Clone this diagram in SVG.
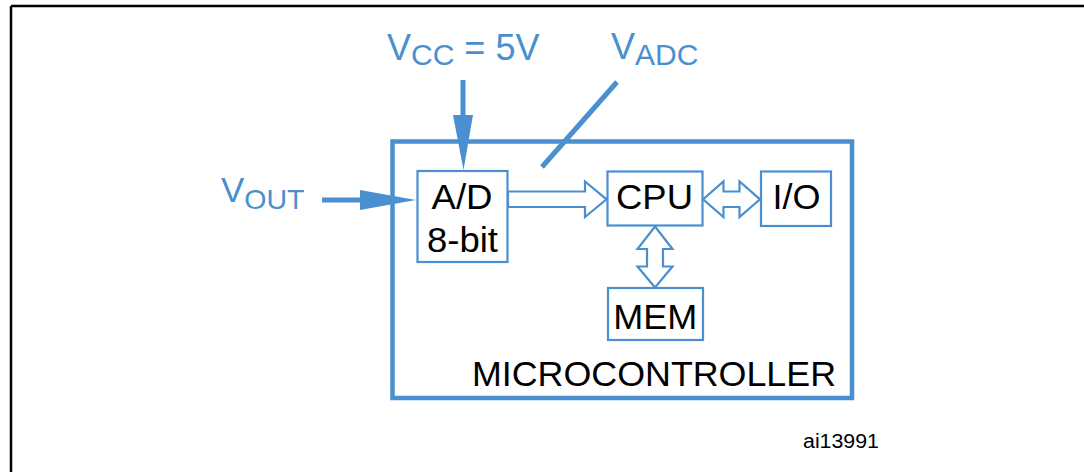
<svg xmlns="http://www.w3.org/2000/svg" width="1084" height="472" viewBox="0 0 1084 472">
<style>
.blk{font-family:"Liberation Sans",Arial,sans-serif;fill:#000;font-size:34.5px}
.blu{font-family:"Liberation Sans",Arial,sans-serif;fill:#4a8fcf}
.box{fill:#fff;stroke:#4a8fcf;stroke-width:2.2}
.hollow{fill:#fff;stroke:#4a8fcf;stroke-width:2.2;stroke-linejoin:miter}
.wire{stroke:#4a8fcf;stroke-width:5;fill:none}
.head{fill:#4a8fcf;stroke:none}
</style>
<rect x="0" y="0" width="1084" height="472" fill="#fff"/>
<path d="M11,6 H1084 M11,6 V472" stroke="#000" stroke-width="2.5" fill="none"/>

<g id="microcontroller">
<rect x="392.5" y="141.5" width="459.5" height="256.5" fill="none" stroke="#4a8fcf" stroke-width="4.5"/>
<text class="blk" x="472" y="385.5" textLength="364" lengthAdjust="spacingAndGlyphs">MICROCONTROLLER</text>
</g>

<g id="connectors">
<line class="wire" x1="463" y1="80" x2="463" y2="118"/>
<polygon class="head" points="453,115 473,115 463.5,170"/>
<line class="wire" x1="322" y1="200" x2="362" y2="200"/>
<polygon class="head" points="360,190 360,210 416,200"/>
<line class="wire" x1="617" y1="82" x2="542" y2="167"/>
<polygon class="hollow" points="508,191.5 585,191.5 585,181.5 606.5,199.3 585,217 585,207 508,207"/>
<polygon class="hollow" points="703,199.3 723.5,181.5 723.5,191.5 739.5,191.5 739.5,181.5 760,199.3 739.5,217 739.5,207 723.5,207 723.5,217"/>
<polygon class="hollow" points="655,226.5 672.5,249 663,249 663,266.5 672.5,266.5 655,287.5 637.5,266.5 647,266.5 647,249 637.5,249"/>
</g>

<g id="ad">
<rect class="box" x="417.5" y="171" width="90" height="91"/>
<text class="blk" x="462" y="208.5" text-anchor="middle" textLength="61" lengthAdjust="spacingAndGlyphs">A/D</text>
<text class="blk" x="462.5" y="251.5" text-anchor="middle" textLength="71" lengthAdjust="spacingAndGlyphs">8-bit</text>
</g>

<g id="cpu">
<rect class="box" x="607.5" y="171.5" width="95" height="54"/>
<text class="blk" x="654.5" y="208.5" text-anchor="middle" textLength="77" lengthAdjust="spacingAndGlyphs">CPU</text>
</g>

<g id="io">
<rect class="box" x="761" y="171.5" width="70" height="54.5"/>
<text class="blk" x="796.5" y="208.5" text-anchor="middle" textLength="48" lengthAdjust="spacingAndGlyphs">I/O</text>
</g>

<g id="mem">
<rect class="box" x="608" y="288" width="95" height="52"/>
<text class="blk" x="655.3" y="328.5" text-anchor="middle" textLength="84" lengthAdjust="spacingAndGlyphs">MEM</text>
</g>

<g id="vcc">
<text class="blu" x="387" y="60" font-size="36">V<tspan font-size="30" dy="5">CC</tspan><tspan dy="-5"> = 5V</tspan></text>
</g>
<g id="vadc">
<text class="blu" x="611" y="58.5" font-size="36">V<tspan font-size="30" dy="6.5">ADC</tspan></text>
</g>
<g id="vout">
<text class="blu" x="221" y="201.7" font-size="35">V<tspan font-size="28.5" dy="7.6">OUT</tspan></text>
</g>

<g id="label">
<text x="803" y="448.3" font-family="Liberation Sans,Arial,sans-serif" font-size="20" fill="#000" textLength="76" lengthAdjust="spacingAndGlyphs">ai13991</text>
</g>
</svg>
